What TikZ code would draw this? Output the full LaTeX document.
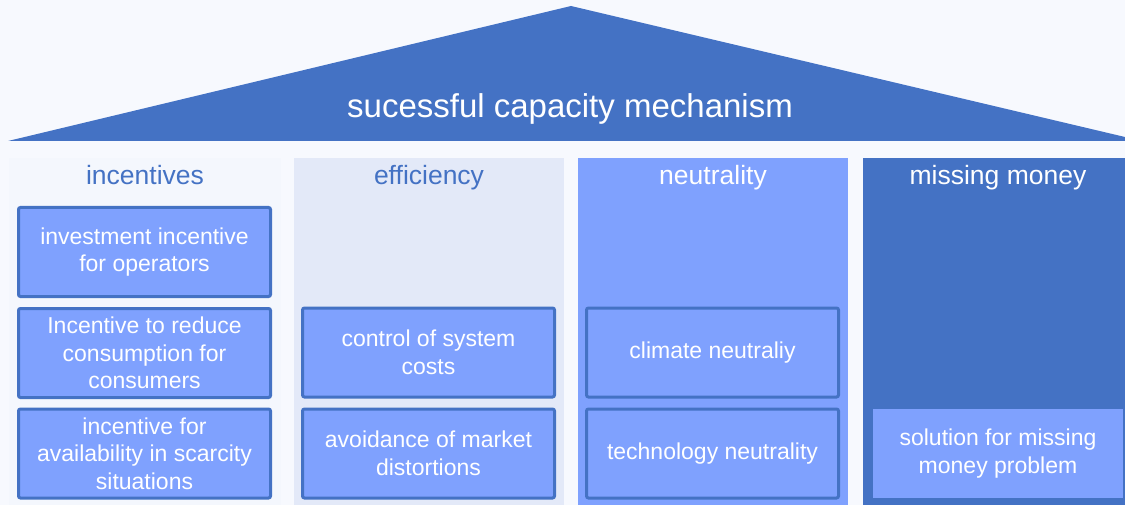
\documentclass[tikz,border=0pt]{standalone}
\usepackage{fontspec}
\setmainfont{Liberation Sans}
\definecolor{bgc}{HTML}{F7F9FE}
\definecolor{darkblue}{HTML}{4472C4}
\definecolor{palecol}{HTML}{E3E9F8}
\definecolor{faintcol}{HTML}{F4F7FD}
\definecolor{midblue}{HTML}{7FA1FE}
\begin{document}
\begin{tikzpicture}[x=1pt,y=1pt,
  colbg/.style={anchor=north west,inner sep=0pt,minimum height=347pt},
  header/.style={font=\fontsize{26.5}{31}\selectfont,inner sep=0pt,anchor=base},
  pillar/.style={draw=darkblue,line width=3pt,fill=midblue,rounded corners=2pt,
    minimum width=252pt,minimum height=89pt,inner sep=0pt,align=center,
    text=white,font=\fontsize{23}{27.5}\selectfont},
  plainpillar/.style={fill=midblue,minimum width=250pt,minimum height=89pt,inner sep=0pt,
    align=center,text=white,font=\fontsize{23}{27.5}\selectfont}]
\useasboundingbox (0,0) rectangle (1125,-505);
\fill[bgc] (0,0) rectangle (1125,-505);
% roof
\fill[darkblue] (8,-141) -- (571,-6) -- (1125,-137) -- (1125,-141) -- cycle;
\node[text=white,font=\fontsize{33}{38}\selectfont,inner sep=0pt] (title) at (570,-109) {sucessful capacity mechanism};
% columns
\node[colbg,fill=faintcol,minimum width=272pt] (c1) at (9,-158) {};
\node[colbg,fill=palecol,minimum width=270pt] (c2) at (294,-158) {};
\node[colbg,fill=midblue,minimum width=270pt] (c3) at (578,-158) {};
\node[colbg,fill=darkblue,minimum width=262pt] (c4) at (863,-158) {};
% headers
\node[header,text=darkblue] (h1) at (145,-185) {incentives};
\node[header,text=darkblue] (h2) at (429,-185) {efficiency};
\node[header,text=white] (h3) at (713,-185) {neutrality};
\node[header,text=white] (h4) at (998,-185) {missing money};
% boxes
\node[pillar] (b1) at (144.5,-252) {investment incentive\\for operators};
\node[pillar] (b2) at (144.5,-353) {Incentive to reduce\\consumption for\\consumers};
\node[pillar] (b3) at (144.5,-453.5) {incentive for\\availability in scarcity\\situations};
\node[pillar] (b4) at (428.5,-352.5) {control of system\\costs};
\node[pillar] (b5) at (428.5,-453.5) {avoidance of market\\distortions};
\node[pillar] (b6) at (712.5,-352.5) {climate neutraliy};
\node[pillar] (b7) at (712.5,-453.5) {technology neutrality};
\node[plainpillar] (b8) at (998,-453.5) {solution for missing\\money problem};
\end{tikzpicture}
\end{document}
